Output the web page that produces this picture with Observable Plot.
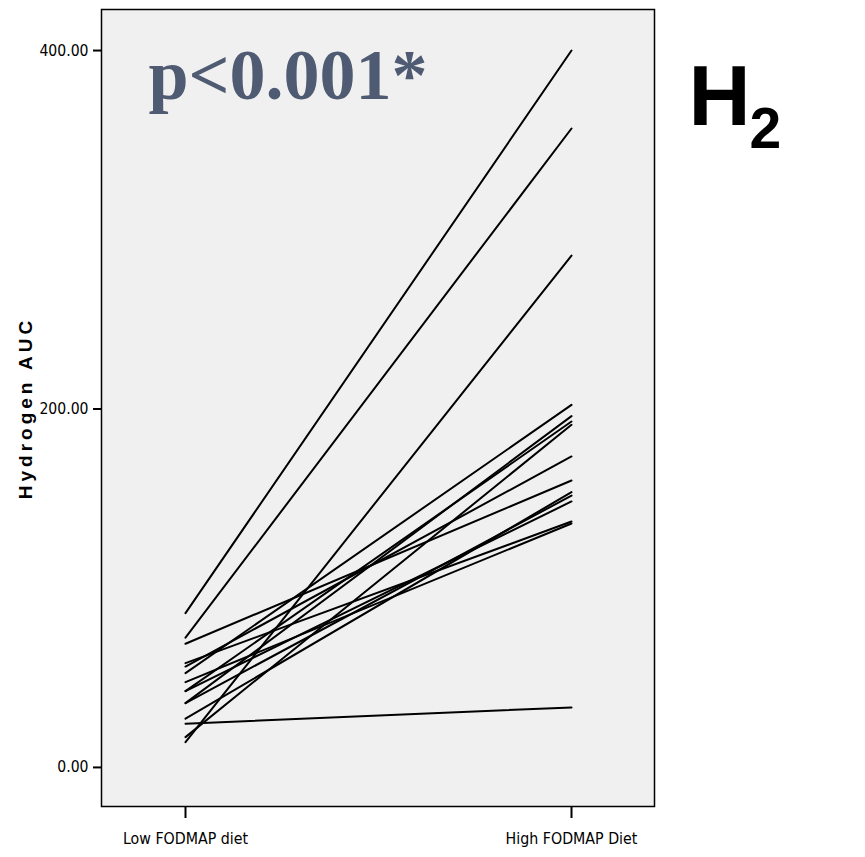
<!DOCTYPE html>
<html>
<head>
<meta charset="utf-8">
<script src="https://cdn.jsdelivr.net/npm/d3@7"></script>
<script src="https://cdn.jsdelivr.net/npm/@observablehq/plot@0.6"></script>
<style>
  html, body { margin: 0; padding: 0; background: #ffffff; }
  #chart svg { display: block; }
  .ylab text { letter-spacing: 4px; }
</style>
</head>
<body>
<div id="chart"></div>
<script>
// Diet conditions (x categories)
const categories = ["Low FODMAP diet", "High FODMAP Diet"];
// Hydrogen AUC per subject, low-FODMAP diet
const lowDiet  = [86.1, 72.4, 14.1, 69.0, 56.3, 52.6, 35.9, 42.6, 16.9, 27.2, 35.9, 42.6, 58.2, 47.6, 24.4];
// Hydrogen AUC per subject, high-FODMAP diet
const highDiet = [400.0, 356.5, 285.6, 160.1, 173.5, 202.3, 196.0, 193.0, 191.2, 153.6, 151.7, 148.4, 137.2, 136.1, 33.5];
// y-axis ticks
const yTicks = [0, 200, 400];
const yLabel = "Hydrogen AUC";
const pText = "p<0.001*";
const gasMain = "H";
const gasSub = "2";

const rows = [];
lowDiet.forEach((v, i) => {
  rows.push({subject: i, diet: categories[0], value: v});
  rows.push({subject: i, diet: categories[1], value: highDiet[i]});
});

const narrow = "'Liberation Sans Narrow', 'Arial Narrow', 'DejaVu Sans Condensed', sans-serif";

const chart = Plot.plot({
  width: 865,
  height: 857,
  marginLeft: 101,
  marginRight: 211,
  marginTop: 9,
  marginBottom: 51,
  style: {background: "#ffffff", color: "#000000", fontFamily: narrow},
  x: {type: "point", domain: categories, padding: 0.2145},
  y: {domain: [-21.8, 422.9]},
  marks: [
    Plot.frame({fill: "#f0f0f0"}),
    Plot.line(rows, {x: "diet", y: "value", z: "subject", stroke: "#000000", strokeWidth: 2}),
    Plot.frame({stroke: "#000000", strokeWidth: 1.5}),
    Plot.axisY({ticks: yTicks, tickFormat: d3.format(".2f"), tickSize: 8, tickPadding: 5,
      fontSize: 15.6, fontFamily: narrow, label: null, strokeWidth: 2, fill: "#000000"}),
    Plot.axisX({tickSize: 12, tickPadding: 14, fontSize: 15.8, fontFamily: narrow, label: null,
      strokeWidth: 2, fill: "#000000"}),
    Plot.text([yLabel], {frameAnchor: "left", text: d => d, rotate: -90, dx: -76,
      textAnchor: "middle", lineAnchor: "middle", fontSize: 19, fontWeight: "bold",
      fontFamily: "'Liberation Sans', Arial, sans-serif", fill: "#000000", className: "ylab"}),
    Plot.text([pText], {frameAnchor: "top-left", text: d => d, dx: 47, dy: 38,
      textAnchor: "start", lineAnchor: "top", fontSize: 72, fontWeight: "bold",
      fontFamily: "'Liberation Serif', 'Times New Roman', serif", fill: "#4f5b72"}),
    Plot.text([gasMain], {frameAnchor: "top-right", text: d => d, dx: 34, dy: 54,
      textAnchor: "start", lineAnchor: "top", fontSize: 86, fontWeight: "bold",
      fontFamily: "'Liberation Sans', Arial, sans-serif", fill: "#000000"}),
    Plot.text([gasSub], {frameAnchor: "top-right", text: d => d, dx: 95, dy: 98,
      textAnchor: "start", lineAnchor: "top", fontSize: 57, fontWeight: "bold",
      fontFamily: "'Liberation Sans', Arial, sans-serif", fill: "#000000"})
  ]
});
document.getElementById("chart").appendChild(chart);
</script>
</body>
</html>
